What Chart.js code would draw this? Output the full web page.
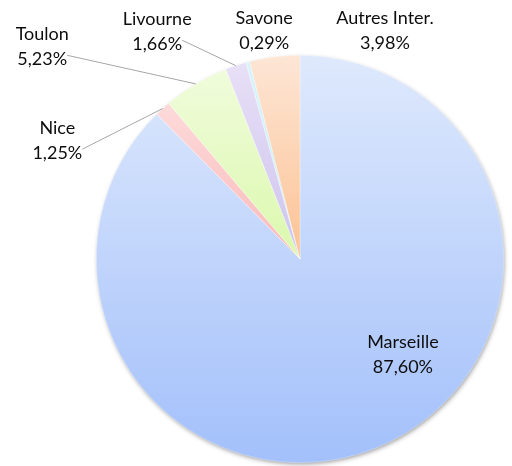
<!DOCTYPE html>
<html>
<head>
<meta charset="utf-8">
<script src="https://cdn.jsdelivr.net/npm/chart.js"></script>
<style>
    html, body { margin: 0; padding: 0; background: #fff; }
    #chart { display: block; }
</style>
</head>
<body>
<canvas id="chart" width="512" height="466"></canvas>
<script>
const ports = ['Marseille', 'Nice', 'Toulon', 'Livourne', 'Savone', 'Autres Inter.'];
const shares = [87.60, 1.25, 5.23, 1.66, 0.29, 3.98];
// light (top) and dark (bottom) stop of each slice gradient
const topColors = ['#dee9fc', '#fddada', '#f0fcdb', '#e7e0f6', '#d9f3fb', '#fde6d5'];
const bottomColors = ['#a3c0fb', '#fab9b9', '#dbf8ad', '#cdc3ee', '#c6ecf8', '#fcc294'];
// label block centre relative to pie centre, in radius units
const labelPos = [[0.505, 0.466], [-1.191, -0.583], [-1.265, -1.044], [-0.701, -1.118], [-0.176, -1.123], [0.417, -1.123]];
const leader = [false, true, true, true, false, false];

const fmt = v => v.toFixed(2).replace('.', ',') + '%';

// per-slice vertical gradient, like the office-style fill
const sliceFill = {
    id: 'sliceFill',
    beforeDatasetsDraw(chart) {
        const ctx = chart.ctx;
        chart.getDatasetMeta(0).data.forEach((arc, i) => {
            const {x, y, startAngle, endAngle, outerRadius} = arc.getProps(['x', 'y', 'startAngle', 'endAngle', 'outerRadius']);
            let ys = [y, y + outerRadius * Math.sin(startAngle), y + outerRadius * Math.sin(endAngle)];
            for (let a = -Math.PI / 2; a < endAngle + 2 * Math.PI; a += Math.PI) {
                if (a > startAngle && a < endAngle) ys.push(y + outerRadius * Math.sin(a));
            }
            const g = ctx.createLinearGradient(0, Math.min(...ys), 0, Math.max(...ys));
            g.addColorStop(0, topColors[i]);
            g.addColorStop(1, bottomColors[i]);
            arc.options.backgroundColor = g;
        });
        // soft shadow under the whole pie
        const a0 = chart.getDatasetMeta(0).data[0];
        ctx.save();
        ctx.shadowColor = 'rgba(0,0,0,0.45)';
        ctx.shadowBlur = 5;
        ctx.shadowOffsetX = 1;
        ctx.shadowOffsetY = 2;
        ctx.fillStyle = '#ffffff';
        ctx.beginPath();
        ctx.arc(a0.x, a0.y, a0.outerRadius - 1, 0, 2 * Math.PI);
        ctx.fill();
        ctx.restore();
    }
};

const sliceLabels = {
    id: 'sliceLabels',
    afterDatasetsDraw(chart) {
        const ctx = chart.ctx;
        ctx.save();
        ctx.font = '18px Lato';
        ctx.textAlign = 'center';
        ctx.textBaseline = 'middle';
        chart.getDatasetMeta(0).data.forEach((arc, i) => {
            const {x, y, startAngle, endAngle, outerRadius} = arc.getProps(['x', 'y', 'startAngle', 'endAngle', 'outerRadius']);
            const lx = x + labelPos[i][0] * outerRadius;
            const ly = y + labelPos[i][1] * outerRadius;
            const pct = fmt(shares[i]);
            if (leader[i]) {
                const mid = (startAngle + endAngle) / 2;
                const w = ctx.measureText(pct).width;
                ctx.strokeStyle = '#a6a6a6';
                ctx.lineWidth = 1;
                ctx.beginPath();
                ctx.moveTo(lx + w / 2, ly + 9);
                ctx.lineTo(x + outerRadius * Math.cos(mid), y + outerRadius * Math.sin(mid));
                ctx.stroke();
            }
            ctx.fillStyle = '#0d0d0d';
            ctx.fillText(ports[i], lx, ly - 12);
            ctx.fillText(pct, lx, ly + 13);
        });
        ctx.restore();
    }
};

new Chart(document.getElementById('chart'), {
    type: 'pie',
    data: {
        labels: ports,
        datasets: [{
            data: shares,
            backgroundColor: topColors,
            borderColor: 'rgba(255,255,255,0.6)',
            borderWidth: 0.5
        }]
    },
    options: {
        responsive: false,
        animation: false,
        layout: { padding: { left: 96, right: 8, top: 55, bottom: 3 } },
        plugins: {
            legend: { display: false },
            tooltip: { enabled: false }
        }
    },
    plugins: [sliceFill, sliceLabels]
});
</script>
</body>
</html>
